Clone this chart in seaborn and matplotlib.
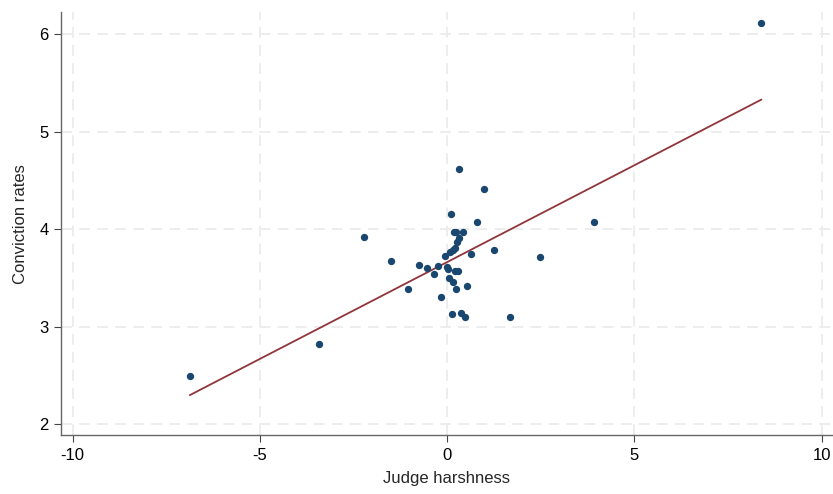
import matplotlib
matplotlib.use("Agg")
import matplotlib.pyplot as plt
import seaborn as sns
import pandas as pd

# Data
harshness = [-6.87, -3.43, -2.21, -1.50, -1.05, -0.75, -0.55, -0.36, -0.24, -0.16,
             -0.07, 0.00, 0.03, 0.06, 0.07, 0.10, 0.12, 0.15, 0.15, 0.17,
             0.21, 0.22, 0.23, 0.24, 0.26, 0.29, 0.31, 0.31, 0.38, 0.41,
             0.47, 0.52, 0.63, 0.79, 0.98, 1.26, 1.67, 2.49, 3.91, 8.39]
conviction = [2.49, 2.82, 3.92, 3.67, 3.38, 3.63, 3.60, 3.54, 3.62, 3.30,
              3.72, 3.61, 3.59, 3.50, 3.76, 4.15, 3.13, 3.79, 3.46, 3.965,
              3.57, 3.81, 3.965, 3.38, 3.87, 3.57, 4.62, 3.91, 3.14, 3.965,
              3.10, 3.42, 3.74, 4.07, 4.41, 3.79, 3.10, 3.71, 4.07, 6.11]

x_ticks = [-10, -5, 0, 5, 10]
y_ticks = [2, 3, 4, 5, 6]

df = pd.DataFrame({"harshness": harshness, "conviction": conviction})

sns.set_style("white")
plt.rcParams["font.family"] = ["Liberation Sans", "DejaVu Sans"]

fig = plt.figure(figsize=(8.33, 4.94), dpi=100)
ax = fig.add_axes([0.0732, 0.1194, 0.9268, 0.856])

sns.regplot(data=df, x="harshness", y="conviction", ci=None, ax=ax,
            scatter_kws={"s": 28, "color": "#1a476f", "alpha": 1, "linewidths": 0, "zorder": 3},
            line_kws={"color": "#90353b", "lw": 1.3, "zorder": 2})

ax.set_xlim(-10.31, 10.3)
ax.set_ylim(1.887, 6.225)
ax.set_xticks(x_ticks)
ax.set_yticks(y_ticks)
ax.set_xticklabels(["-10", "-5", "0", "5", "10"])
ax.grid(True, color="#ececec", linestyle=(0, (6, 4)), lw=1.3)
ax.set_axisbelow(True)

for s in ["top", "right"]:
    ax.spines[s].set_visible(False)
for s in ["left", "bottom"]:
    ax.spines[s].set_color("#666666")
    ax.spines[s].set_linewidth(1.0)

ax.tick_params(axis="both", direction="out", length=5, width=0.8, color="#444444",
               labelsize=12, labelcolor="black", bottom=True, left=True, pad=4)
ax.set_xlabel("Judge harshness", fontsize=12, labelpad=6)
ax.set_ylabel("Conviction rates", fontsize=12, labelpad=8)

fig.savefig("out.png", dpi=100)
